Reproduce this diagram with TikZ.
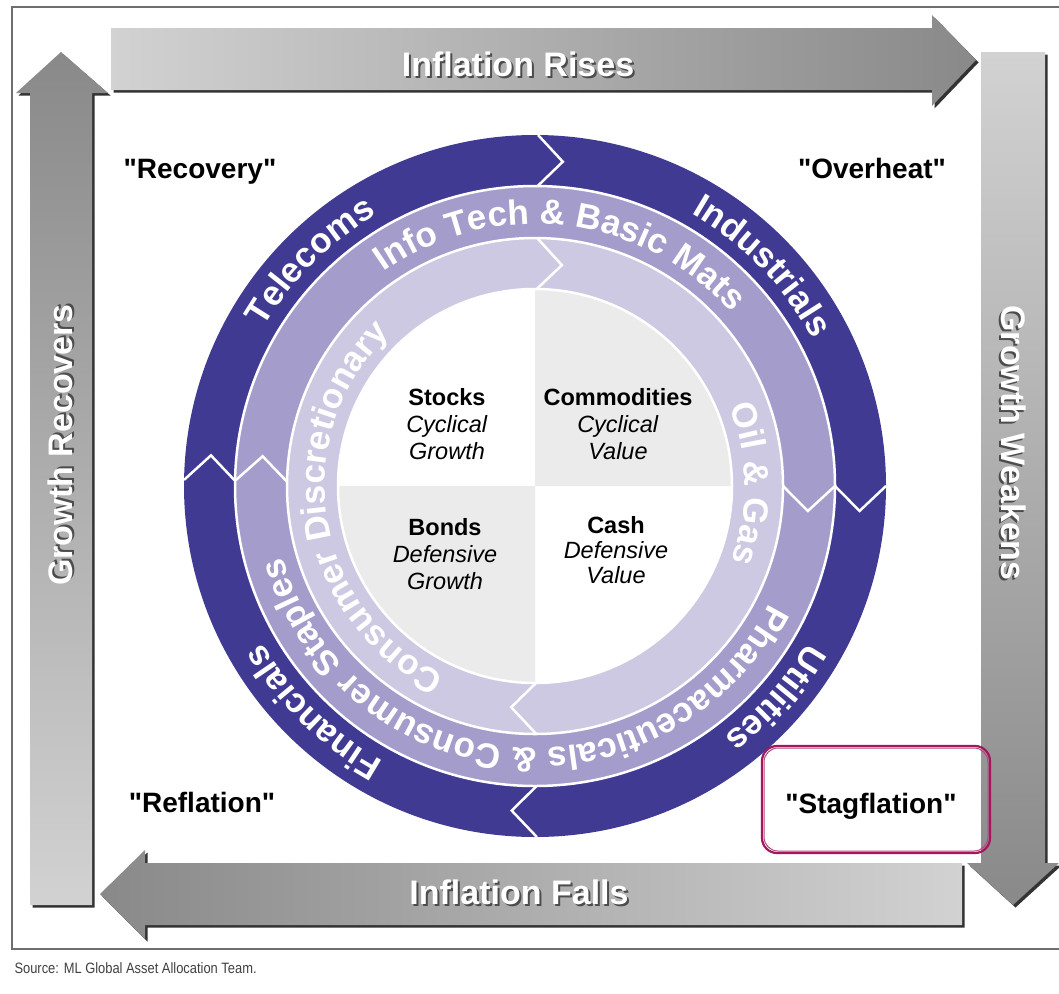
\documentclass[tikz,border=0pt]{standalone}
\usepackage{fontspec}
\setmainfont{Liberation Sans}
\newfontfamily\plainfont{Liberation Sans}
\newfontfamily\narrowfont[FakeStretch=0.86]{Liberation Sans}
\usetikzlibrary{decorations.text,shadows}

\definecolor{ringdark}{HTML}{403A93}
\definecolor{ringmid}{HTML}{A49DCC}
\definecolor{ringlight}{HTML}{CDC9E3}
\definecolor{quadgray}{HTML}{EBEBEB}
\definecolor{arrowlight}{HTML}{D2D2D2}
\definecolor{arrowdark}{HTML}{898989}
\definecolor{stagred}{HTML}{A3175F}
\definecolor{framegray}{HTML}{6E6E6E}

\newcommand\embossed[1]{\leavevmode\rlap{\kern2pt\raisebox{-2pt}{\color{black!70}#1}}#1}
\newcommand\ringtext[4]{%
  \path[decorate,decoration={text along path,text align=center,
    text color=white,text={|\fontsize{35}{35}\selectfont\bfseries|#4}}]
    (#2:#1) arc[start angle=#2,end angle=#3,radius=#1];}

\tikzset{
  bigarrow/.style={drop shadow={shadow xshift=2.5pt,shadow yshift=-2.5pt,opacity=1,fill=black!80}},
  arrowlabel/.style={text=white,font=\fontsize{34}{34}\selectfont\bfseries},
  phase/.style={anchor=base,font=\plainfont\fontsize{28}{28}\selectfont\bfseries},
  asset/.style={align=center,font=\fontsize{23.5}{27}\selectfont},
  ringline/.style={white,line width=2.5},
  chevron/.style={ringline,line join=miter},
}

\begin{document}
\begin{tikzpicture}[x=1pt,y=1pt]
\useasboundingbox (0,0) rectangle (1059,-993);
% frame
\draw[framegray,line width=1.5] (1059,-7) -- (12,-7) -- (12,-949) -- (1059,-949);

% the four big arrows
\shade[bigarrow,left color=arrowlight,right color=arrowdark]
  (111,-28) -- (932,-28) -- (932,-15) -- (976,-60) -- (932,-106) -- (932,-90) -- (111,-90) -- cycle;
\shade[bigarrow,top color=arrowdark,bottom color=arrowlight]
  (30,-905) -- (30,-93) -- (16,-93) -- (61,-52) -- (108,-93) -- (92,-93) -- (92,-905) -- cycle;
\shade[bigarrow,top color=arrowlight,bottom color=arrowdark]
  (981,-52) -- (1045,-52) -- (1045,-863) -- (1059,-863) -- (1013,-905) -- (967,-863) -- (981,-863) -- cycle;
\shade[bigarrow,left color=arrowdark,right color=arrowlight]
  (962,-863) -- (962,-925) -- (145,-925) -- (145,-939) -- (100,-894) -- (145,-850) -- (145,-863) -- cycle;
\node[arrowlabel] (rises) at (518,-65) {\embossed{Inflation Rises}};
\node[arrowlabel] (falls) at (519,-893) {\embossed{Inflation Falls}};
\node[arrowlabel,rotate=90] (recovers) at (61,-445) {\embossed{Growth Recovers}};
\node[arrowlabel,rotate=-90] (weakens) at (1013,-443) {\embossed{Growth Weakens}};

% cycle rings
\begin{scope}[shift={(535,-486)}]
\fill[ringdark] (0,0) circle[radius=351];
\fill[ringmid] (0,0) circle[radius=300];
\fill[ringlight] (0,0) circle[radius=248];
\fill[white] (0,0) circle[radius=197];
\fill[quadgray] (0,0) -- (0:197) arc[start angle=0,end angle=90,radius=197] -- cycle;
\fill[quadgray] (0,0) -- (180:197) arc[start angle=180,end angle=270,radius=197] -- cycle;
\foreach \r in {300,248,197}
  \draw[ringline] (0,0) circle[radius=\r];
\foreach \a/\ri/\ro in {89.5/300/351,0/300/351,270.3/300/351,179/300/351,
                        0/248/300,179/248/300,89.5/197/248,270.3/197/248}
  \draw[chevron] (\a:\ro) -- ({\a-2865/(\ri+\ro)}:{(\ri+\ro)/2}) -- (\a:\ri);
\ringtext{314}{195}{75}{Telecoms}
\ringtext{314}{104}{-16}{Industrials}
\ringtext{314}{18.5}{-101.5}{Utilities}
\ringtext{314}{285.5}{165.5}{Financials}
\ringtext{262}{168.3}{-1.7}{Info Tech {\&} Basic Mats}
\ringtext{262}{354.6}{174.6}{Pharmaceuticals {\&} Consumer Staples}
\ringtext{210}{264}{114}{Consumer Discretionary}
\ringtext{210}{60.7}{-59.3}{Oil {\&} Gas}
\end{scope}

% asset quadrants
\node[asset] (stocks) at (447,-424) {\textbf{Stocks}\\\textit{Cyclical}\\\textit{Growth}};
\node[asset] (commodities) at (618,-424) {\textbf{Commodities}\\\textit{Cyclical}\\\textit{Value}};
\node[asset] (bonds) at (445,-554) {\textbf{Bonds}\\\textit{Defensive}\\\textit{Growth}};
\node[asset,font=\fontsize{23.5}{25}\selectfont] (cash) at (616,-550) {\textbf{Cash}\\\textit{Defensive}\\\textit{Value}};

% phases
\node[phase] (recovery) at (200,-178) {"Recovery"};
\node[phase] (overheat) at (872,-178) {"Overheat"};
\node[phase] (reflation) at (202,-812) {"Reflation"};
\node[phase] (stagflation) at (871,-813) {"Stagflation"};
\draw[stagred,line width=2.2,rounded corners=15] (762,-746) rectangle (990,-853);
\draw[stagred!80,line width=1,rounded corners=14] (764,-748) rectangle (988,-851);

\node[anchor=base west,text=black!75,font=\narrowfont\fontsize{15}{15}\selectfont] (source) at (11,-973)
  {Source: ML Global Asset Allocation Team.};
\end{tikzpicture}
\end{document}
